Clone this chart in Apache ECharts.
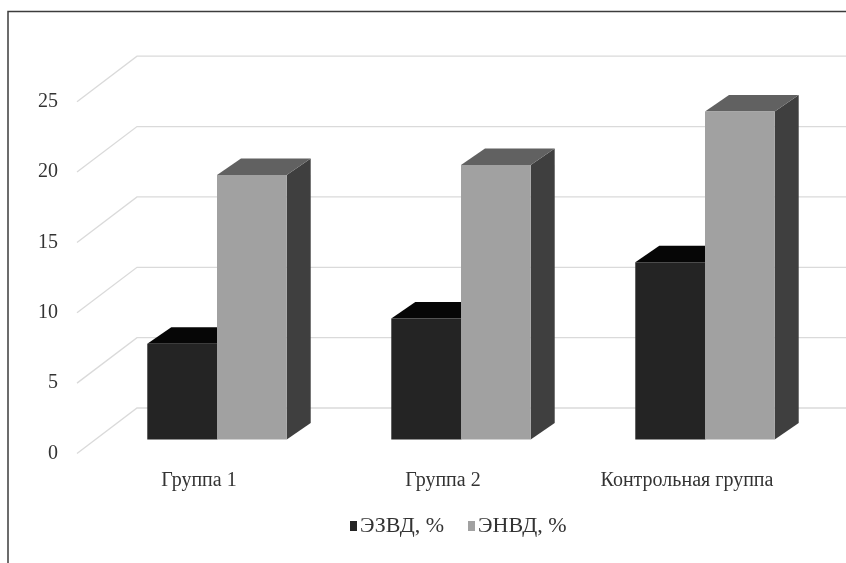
<!DOCTYPE html>
<html>
<head>
<meta charset="utf-8">
<script src="https://cdn.jsdelivr.net/npm/echarts@6/dist/echarts.min.js"></script>
<style>
  html, body { margin: 0; padding: 0; background: #fff; }
  #chart { width: 846px; height: 563px; }
</style>
</head>
<body>
<div id="chart"></div>
<script>
// Categories and series values
const categories = ['Группа 1', 'Группа 2', 'Контрольная группа'];
const seriesNames = ['ЭЗВД, %', 'ЭНВД, %'];
const ezvd = [6.8, 8.6, 12.6];
const envd = [18.8, 19.5, 23.3];
const yTicks = [0, 5, 10, 15, 20, 25];

// Oblique 3D projection: offset of the back wall, of the bar front
// from the front plane, and of the bar depth.
const WALL_DX = 60, WALL_DY = -45.5;
const BAR_FX = 18, BAR_FY = -14;
const BAR_DX = 24, BAR_DY = -16.5;

const FONT = '"Liberation Serif", "Times New Roman", serif';

const palettes = [
  { front: '#242424', top: '#060606', side: '#1a1a1a' },
  { front: '#a1a1a1', top: '#616161', side: '#3f3f3f' }
];

const chart = echarts.init(document.getElementById('chart'));

function gridRender(params, api) {
  const cs = params.coordSys;
  const y = api.coord([0, api.value(1)])[1];
  const x0 = cs.x;
  return {
    type: 'polyline',
    shape: {
      points: [
        [x0, y],
        [x0 + WALL_DX, y + WALL_DY],
        [api.getWidth(), y + WALL_DY]
      ]
    },
    style: { stroke: '#dadada', lineWidth: 1.3, fill: null },
    silent: true
  };
}

function barRender(sIdx) {
  return function (params, api) {
    const cat = api.value(0);
    const val = api.value(1);
    const band = api.size([1, 0])[0];
    const barW = band / 3.5;          // gap width 150 %
    const base = api.coord([cat, 0]);
    const topY = api.coord([cat, val])[1];
    const x = base[0] - barW + sIdx * barW + BAR_FX;
    const y = topY + BAR_FY;
    const yb = base[1] + BAR_FY;
    const pal = palettes[sIdx];
    return {
      type: 'group',
      children: [
        {
          type: 'polygon',
          shape: { points: [[x + barW, y], [x + barW + BAR_DX, y + BAR_DY],
                            [x + barW + BAR_DX, yb + BAR_DY], [x + barW, yb]] },
          style: { fill: pal.side }
        },
        {
          type: 'polygon',
          shape: { points: [[x, y], [x + barW, y],
                            [x + barW + BAR_DX, y + BAR_DY], [x + BAR_DX, y + BAR_DY]] },
          style: { fill: pal.top }
        },
        {
          type: 'rect',
          shape: { x: x, y: y, width: barW, height: yb - y },
          style: { fill: pal.front }
        }
      ]
    };
  };
}

const option = {
  animation: false,
  backgroundColor: '#ffffff',
  grid: { left: 77, right: 37, top: 101.7, bottom: 109.5, containLabel: false },
  xAxis: {
    type: 'category',
    data: categories,
    boundaryGap: true,
    axisLine: { show: false },
    axisTick: { show: false },
    axisLabel: { margin: 17, fontFamily: FONT, fontSize: 20, color: '#333333' }
  },
  yAxis: {
    type: 'value',
    min: 0, max: 25, interval: 5,
    axisLine: { show: false },
    axisTick: { show: false },
    splitLine: { show: false },
    axisLabel: { margin: 19, fontFamily: FONT, fontSize: 20, color: '#333333' }
  },
  legend: {
    data: seriesNames,
    left: 350, top: 515,
    padding: 0,
    icon: 'rect',
    itemWidth: 7, itemHeight: 10,
    itemGap: 24,
    textStyle: { fontFamily: FONT, fontSize: 22, color: '#333333', padding: [0, 0, 0, -2] }
  },
  graphic: [{
    type: 'polyline',
    shape: { points: [[8, 600], [8, 11.5], [900, 11.5]] },
    style: { stroke: '#3c3c3c', lineWidth: 1.5, fill: null },
    silent: true, z: 100
  }],
  series: [
    {
      type: 'custom',
      name: 'grid',
      renderItem: gridRender,
      data: yTicks.map(v => [0, v]),
      clip: false,
      silent: true,
      z: 1
    },
    {
      type: 'custom',
      name: seriesNames[0],
      renderItem: barRender(0),
      itemStyle: { color: palettes[0].front },
      data: ezvd.map((v, i) => [i, v]),
      z: 2
    },
    {
      type: 'custom',
      name: seriesNames[1],
      renderItem: barRender(1),
      itemStyle: { color: palettes[1].front },
      data: envd.map((v, i) => [i, v]),
      z: 3
    }
  ]
};

chart.setOption(option);
</script>
</body>
</html>
